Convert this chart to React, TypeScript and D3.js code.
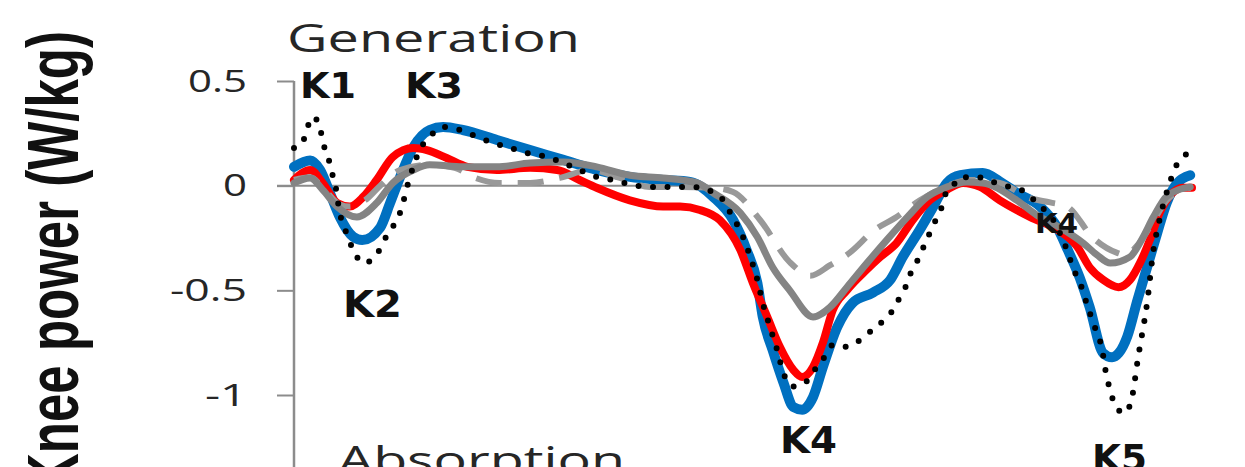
import React, { useRef, useEffect } from 'react';
import * as d3 from 'd3';

const WIDTH = 1245;
const HEIGHT = 467;

// Knee power over the gait cycle: [% of cycle, W/kg]
const blueSeries: [number, number][] = [
  [0, 0.09], [1.8, 0.12], [2.9, 0.075], [4.0, -0.035], [5.1, -0.15], [6.6, -0.245], [7.6, -0.26],
  [9.6, -0.2], [10.7, -0.083], [11.8, 0.04], [13.3, 0.185], [15.1, 0.266], [16.6, 0.28], [18.8, 0.266],
  [22.6, 0.218], [26.3, 0.17], [30.0, 0.123], [33.7, 0.075], [37.4, 0.042], [41.1, 0.027], [44.1, 0.018],
  [46.7, -0.054], [48.9, -0.164], [50.4, -0.307], [51.6, -0.465], [52.2, -0.627], [53.3, -0.785],
  [54.5, -0.94], [55.6, -1.057], [56.6, -1.07], [57.8, -1.01], [58.9, -0.866], [60.5, -0.675],
  [62.2, -0.56], [64.5, -0.51], [66.4, -0.45], [67.8, -0.34], [69.7, -0.21], [71.2, -0.1], [72.7, 0.013],
  [74.2, 0.05], [76.7, 0.06], [78.6, 0.02], [80.5, -0.035], [83.1, -0.1], [85.0, -0.2], [86.2, -0.31],
  [87.5, -0.44], [88.6, -0.58], [90.1, -0.8], [91.1, -0.82], [92.8, -0.72], [93.9, -0.55], [95.0, -0.39],
  [96.1, -0.23], [97.2, -0.08], [98.3, 0.01], [99.8, 0.05]
];

const redSeries: [number, number][] = [
  [0, 0.027], [1.8, 0.075], [3.2, 0.013], [4.8, -0.083], [6.2, -0.1], [7.7, -0.054], [9.2, 0.027],
  [11.0, 0.137], [13.3, 0.18], [14.8, 0.17], [17.0, 0.132], [19.3, 0.09], [22.6, 0.075], [26.3, 0.085],
  [29.3, 0.075], [31.8, 0.027], [33.7, -0.01], [37.4, -0.07], [41.1, -0.1], [43.0, -0.1], [45.2, -0.116],
  [47.4, -0.164], [49.7, -0.307], [51.1, -0.465], [52.7, -0.627], [54.1, -0.77], [55.6, -0.88],
  [56.6, -0.914], [57.8, -0.866], [58.9, -0.75], [60.0, -0.594], [61.6, -0.498], [63.8, -0.4],
  [65.3, -0.34], [67.1, -0.274], [68.9, -0.164], [70.8, -0.07], [72.7, -0.02], [74.5, 0.013],
  [76.4, -0.006], [78.6, -0.07], [82.0, -0.15], [85.0, -0.21], [87.2, -0.29], [88.6, -0.39], [90.1, -0.45],
  [91.8, -0.485], [93.1, -0.45], [94.2, -0.37], [95.3, -0.26], [96.4, -0.13], [97.6, -0.045], [99.0, -0.01],
  [100, -0.01]
];

const graySeries: [number, number][] = [
  [0, 0.013], [1.8, 0.037], [3.2, -0.02], [4.8, -0.1], [7.0, -0.15], [9.2, -0.083], [11.0, 0.013],
  [13.3, 0.075], [15.1, 0.1], [18.8, 0.09], [22.6, 0.09], [26.3, 0.108], [30.0, 0.113], [33.7, 0.09],
  [37.4, 0.05], [41.1, 0.037], [44.9, 0.013], [46.7, -0.035], [49.7, -0.13], [51.6, -0.245], [53.3, -0.39],
  [55.2, -0.5], [57.8, -0.627], [59.7, -0.58], [61.6, -0.484], [63.8, -0.37], [66.0, -0.26], [68.3, -0.15],
  [70.5, -0.054], [72.7, -0.006], [74.9, 0.018], [76.7, 0.013], [80.5, -0.07], [82.7, -0.14], [85.3, -0.2],
  [87.9, -0.275], [89.4, -0.33], [90.9, -0.37], [93.1, -0.34], [94.5, -0.25], [95.7, -0.15], [97.2, -0.05],
  [99.8, -0.006]
];

const grayDashedSeries: [number, number][] = [
  [0, 0.027], [1.8, 0.04], [3.4, -0.02], [5.1, -0.09], [6.2, -0.1], [7.9, -0.07], [9.6, 0], [11.8, 0.075],
  [15.1, 0.1], [17.9, 0.085], [20.2, 0.037], [22.9, 0.013], [26.3, 0.013], [29.6, 0.037], [33.0, 0.075],
  [36.3, 0.037], [39.6, -0.006], [43.0, -0.006], [46.7, -0.01], [48.9, -0.03], [51.9, -0.164],
  [55.2, -0.365], [57.5, -0.43], [59.7, -0.38], [61.9, -0.32], [64.7, -0.21], [66.9, -0.155], [69.7, -0.07],
  [72.5, -0.006], [75.3, 0.027], [78.6, 0.013], [82.0, -0.06], [84.2, -0.08], [86.1, -0.1], [89.0, -0.25],
  [91.6, -0.32], [92.5, -0.33], [94.2, -0.27], [95.7, -0.17], [97.2, -0.07], [99.8, -0.01]
];

const blackDottedSeries: [number, number][] = [
  [0, 0.18], [0.9, 0.2], [1.4, 0.266], [2.1, 0.33], [2.9, 0.276], [3.2, 0.21], [3.8, 0.137], [4.2, 0.065],
  [4.6, 0.003], [5.1, -0.13], [5.7, -0.21], [6.6, -0.307], [7.7, -0.37], [9.2, -0.33], [9.9, -0.27],
  [11.0, -0.197], [11.8, -0.13], [12.9, 0.04], [14.0, 0.17], [15.1, 0.233], [16.6, 0.28], [18.5, 0.266],
  [20.4, 0.233], [22.2, 0.204], [24.1, 0.18], [25.9, 0.156], [28.2, 0.137], [30.0, 0.108], [31.8, 0.075],
  [33.7, 0.042], [35.5, 0.027], [37.8, 0.003], [39.6, -0.006], [44.1, -0.006], [46.0, -0.02], [47.8, -0.07],
  [48.6, -0.13], [50.0, -0.245], [50.8, -0.34], [51.6, -0.45], [52.2, -0.56], [53.0, -0.675], [53.8, -0.785],
  [54.5, -0.895], [55.6, -0.96], [57.2, -0.93], [58.2, -0.866], [59.4, -0.8], [60.0, -0.76], [61.4, -0.77],
  [62.7, -0.747], [64.1, -0.7], [65.5, -0.65], [66.7, -0.594], [67.5, -0.53], [68.3, -0.465], [68.9, -0.39],
  [69.7, -0.34], [70.3, -0.27], [71.0, -0.21], [71.6, -0.15], [72.3, -0.083], [72.7, -0.02], [73.8, 0.018],
  [74.2, 0.04], [76.1, 0.04], [77.8, 0.018], [79.7, -0.006], [81.6, -0.035], [82.7, -0.083], [83.9, -0.13],
  [85.0, -0.197], [85.6, -0.26], [86.2, -0.32], [86.7, -0.39], [87.5, -0.46], [88.4, -0.58], [89.0, -0.656],
  [90.0, -0.785], [90.5, -0.914], [90.9, -0.976], [91.4, -1.048], [92.5, -1.087], [93.3, -1.015],
  [94.0, -0.82], [95.0, -0.56], [95.7, -0.31], [96.4, -0.16], [97.2, -0.03], [98.3, 0.1], [99.6, 0.156]
];

const yTicks = [0.5, 0, -0.5, -1];
const yTickLabels = ['0.5', '0', '-0.5', '-1'];

// drawing order: bottom to top
const seriesStyles = [
  { data: blueSeries, color: '#0070C0', width: 10, dash: null, cap: 'round' },
  { data: redSeries, color: '#FF0000', width: 8, dash: null, cap: 'round' },
  { data: grayDashedSeries, color: '#999999', width: 6, dash: '26 16', cap: 'butt' },
  { data: graySeries, color: '#848484', width: 7, dash: null, cap: 'round' },
  { data: blackDottedSeries, color: '#000000', width: 6, dash: '0 14.5', cap: 'round' }
];

// text boxes (the source figure is stretched sideways, so widths are forced)
const annotations = [
  { text: 'Generation', x: 287, y: 52, size: 38, width: 293, bold: false },
  { text: 'Absorption', x: 338, y: 474, size: 38, width: 287, bold: false },
  { text: 'K1', x: 300, y: 98, size: 36, width: 56, bold: true },
  { text: 'K3', x: 405, y: 98, size: 36, width: 58, bold: true },
  { text: 'K2', x: 343, y: 317, size: 37, width: 59, bold: true },
  { text: 'K4', x: 780, y: 453, size: 38, width: 57, bold: true },
  { text: 'K4', x: 1035, y: 233, size: 27, width: 43, bold: true },
  { text: 'K5', x: 1092, y: 471, size: 37, width: 55, bold: true }
];
const tickLabelWidths = [59, 24, 77, 42];

const KneePowerChart = () => {
  const svgRef = useRef<SVGSVGElement | null>(null);

  useEffect(() => {
    const svg = d3.select(svgRef.current);
    svg.selectAll('*').remove();

    const xScale = d3.scaleLinear().domain([0, 100]).range([294, 1192]);
    const yScale = d3.scaleLinear().domain([0.5, -1]).range([81, 395]);

    svg.append('rect').attr('width', WIDTH).attr('height', HEIGHT).attr('fill', '#ffffff');

    // y axis
    const yAxis = d3.axisLeft(yScale).tickValues(yTicks).tickSize(17).tickSizeOuter(0).tickFormat(() => '');
    const axisG = svg.append('g').attr('transform', `translate(${xScale(0)},0)`).call(yAxis);
    axisG.select('.domain').remove();
    axisG.selectAll('.tick line').attr('stroke', '#8c8c8c').attr('stroke-width', 2);

    svg.append('line')
      .attr('x1', xScale(0)).attr('x2', xScale(0))
      .attr('y1', yScale(0.5)).attr('y2', HEIGHT + 10)
      .attr('stroke', '#8c8c8c').attr('stroke-width', 2.5);

    // zero line
    svg.append('line')
      .attr('x1', xScale(0) - 17).attr('x2', xScale(100))
      .attr('y1', yScale(0)).attr('y2', yScale(0))
      .attr('stroke', '#8c8c8c').attr('stroke-width', 2);

    yTicks.forEach((t, i) => {
      const w = tickLabelWidths[i];
      svg.append('text')
        .attr('x', 247 - w)
        .attr('y', yScale(t) + 10.5)
        .attr('font-family', '"Open Sans", sans-serif')
        .attr('font-size', 31)
        .attr('fill', '#262626')
        .attr('textLength', w)
        .attr('lengthAdjust', 'spacingAndGlyphs')
        .text(yTickLabels[i]);
    });

    const line = d3.line<[number, number]>()
      .x(d => xScale(d[0]))
      .y(d => yScale(d[1]))
      .curve(d3.curveMonotoneX);

    seriesStyles.forEach(s => {
      const p = svg.append('path')
        .attr('d', line(s.data))
        .attr('fill', 'none')
        .attr('stroke', s.color)
        .attr('stroke-width', s.width)
        .attr('stroke-linejoin', 'round')
        .attr('stroke-linecap', s.cap);
      if (s.dash) p.attr('stroke-dasharray', s.dash);
    });

    annotations.forEach(a => {
      svg.append('text')
        .attr('x', a.x)
        .attr('y', a.y)
        .attr('font-family', a.bold ? '"DejaVu Sans", Verdana, sans-serif' : '"Open Sans", sans-serif')
        .attr('font-weight', a.bold ? 'bold' : 'normal')
        .attr('font-size', a.size)
        .attr('fill', a.bold ? '#111111' : '#262626')
        .attr('textLength', a.width)
        .attr('lengthAdjust', 'spacingAndGlyphs')
        .text(a.text);
    });

    // rotated axis title, stretched horizontally like the source
    svg.append('text')
      .attr('transform', 'translate(78,31) scale(1.42,1) rotate(-90)')
      .attr('text-anchor', 'end')
      .attr('font-family', '"Liberation Sans", Arial, sans-serif')
      .attr('font-weight', 'bold')
      .attr('font-size', 51)
      .attr('fill', '#111111')
      .text('Knee power (W/kg)');
  }, []);

  return (
    <svg
      ref={svgRef}
      width={WIDTH}
      height={HEIGHT}
      style={{ position: 'absolute', left: 0, top: 0, display: 'block' }}
    />
  );
};

export default function App() {
  return <KneePowerChart />;
}
